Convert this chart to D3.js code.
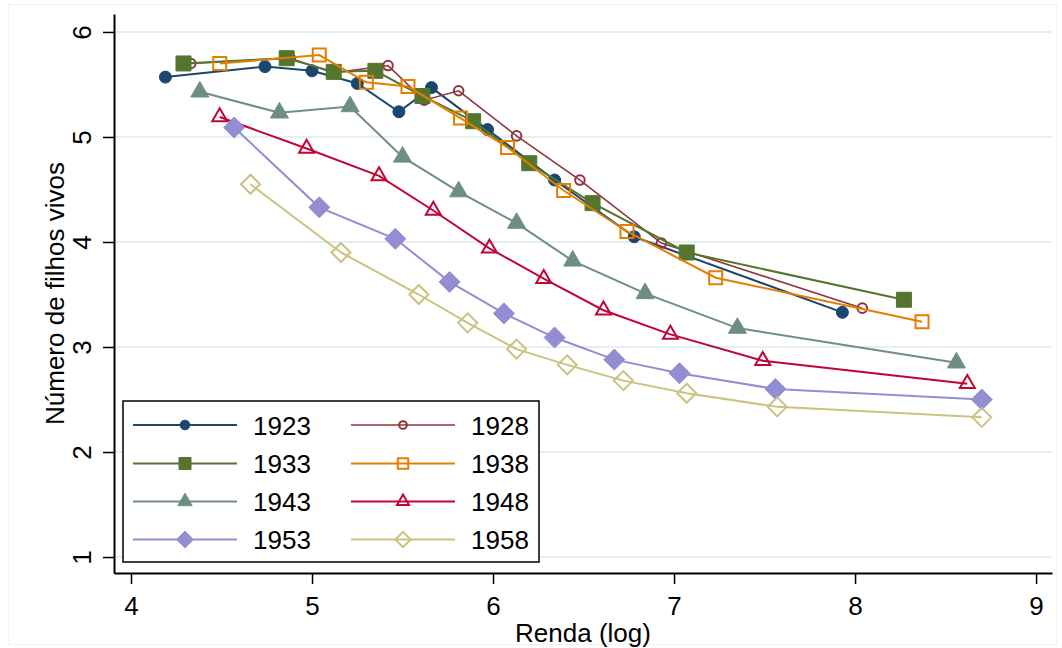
<!DOCTYPE html>
<html>
<head>
<meta charset="utf-8">
<script src="https://cdn.jsdelivr.net/npm/d3@7"></script>
<style>
  body { margin: 0; background: #fff; }
  text { font-family: 'Liberation Sans', Arial, sans-serif; fill: #000; }
</style>
</head>
<body>
<div id="chart"></div>
<script>
const chartWidth = 1062
const chartHeight = 648

// 各世代資料: [Renda (log), Número de filhos vivos]
const years = ['1923', '1928', '1933', '1938', '1943', '1948', '1953', '1958']
const s1923 = [[4.19, 5.57], [4.74, 5.67], [5.0, 5.63], [5.25, 5.51], [5.48, 5.24], [5.66, 5.47], [5.97, 5.07], [6.34, 4.59], [6.78, 4.05], [7.93, 3.33]]
const s1928 = [[4.33, 5.7], [4.88, 5.75], [5.12, 5.61], [5.42, 5.68], [5.62, 5.35], [5.81, 5.44], [6.13, 5.01], [6.48, 4.59], [6.93, 3.99], [8.04, 3.37]]
const s1933 = [[4.29, 5.7], [4.86, 5.75], [5.12, 5.62], [5.35, 5.63], [5.61, 5.39], [5.89, 5.15], [6.2, 4.75], [6.55, 4.37], [7.07, 3.9], [8.27, 3.45]]
const s1938 = [[4.49, 5.7], [5.04, 5.78], [5.3, 5.52], [5.53, 5.48], [5.82, 5.18], [6.08, 4.9], [6.39, 4.49], [6.74, 4.1], [7.23, 3.66], [8.37, 3.24]]
const s1943 = [[4.38, 5.43], [4.82, 5.23], [5.21, 5.29], [5.5, 4.81], [5.81, 4.48], [6.13, 4.18], [6.44, 3.82], [6.84, 3.51], [7.35, 3.18], [8.56, 2.85]]
const s1948 = [[4.49, 5.19], [4.97, 4.89], [5.37, 4.63], [5.67, 4.3], [5.98, 3.94], [6.28, 3.65], [6.61, 3.35], [6.98, 3.12], [7.49, 2.87], [8.62, 2.65]]
const s1953 = [[4.57, 5.09], [5.04, 4.33], [5.46, 4.03], [5.76, 3.62], [6.06, 3.32], [6.34, 3.09], [6.67, 2.88], [7.03, 2.75], [7.56, 2.6], [8.7, 2.5]]
const s1958 = [[4.66, 4.55], [5.16, 3.9], [5.59, 3.5], [5.86, 3.23], [6.13, 2.98], [6.41, 2.83], [6.72, 2.68], [7.07, 2.56], [7.57, 2.43], [8.7, 2.33]]
const xTicks = [4, 5, 6, 7, 8, 9]
const yTicks = [1, 2, 3, 4, 5, 6]

const seriesData = [s1923, s1928, s1933, s1938, s1943, s1948, s1953, s1958]

// Stata s2color 樣式
const styles = [
  { color: '#1a476f', shape: 'circle', fill: true, size: 6, width: 2 },
  { color: '#90353b', shape: 'circle', fill: false, size: 4.8, width: 1.6 },
  { color: '#55752f', shape: 'square', fill: true, size: 15, width: 2 },
  { color: '#e37e00', shape: 'square', fill: false, size: 13, width: 2 },
  { color: '#6e8e84', shape: 'triangle', fill: true, size: 18, width: 2 },
  { color: '#c10534', shape: 'triangle', fill: false, size: 15, width: 2 },
  { color: '#938dd2', shape: 'diamond', fill: true, size: 10.5, width: 2 },
  { color: '#cac27e', shape: 'diamond', fill: false, size: 9.5, width: 2 },
]

const x = d3.scaleLinear().domain([3.906, 9.088]).range([114, 1052])
const y = d3.scaleLinear().domain([0.848, 6.171]).range([573, 14])

const svg = d3
  .select('#chart')
  .append('svg')
  .attr('width', chartWidth)
  .attr('height', chartHeight)

// 外框
svg
  .append('rect')
  .attr('x', 8.5)
  .attr('y', 4.5)
  .attr('width', 1048)
  .attr('height', 640)
  .attr('fill', 'none')
  .attr('stroke', '#eef3f4')

// 格線
svg
  .append('g')
  .selectAll('line')
  .data(yTicks)
  .enter()
  .append('line')
  .attr('x1', 114)
  .attr('x2', 1052)
  .attr('y1', d => y(d))
  .attr('y2', d => y(d))
  .attr('stroke', '#e4eff1')
  .attr('stroke-width', 2)

// 畫 marker
function markerPath(shape, s) {
  if (shape === 'square') {
    const h = s / 2
    return `M${-h},${-h}H${h}V${h}H${-h}Z`
  }
  if (shape === 'triangle') {
    const h = (s * Math.sqrt(3)) / 2
    return `M0,${(-2 * h) / 3}L${s / 2},${h / 3}L${-s / 2},${h / 3}Z`
  }
  if (shape === 'diamond') {
    return `M0,${-s}L${s},0L0,${s}L${-s},0Z`
  }
  return d3.arc()({ innerRadius: 0, outerRadius: s, startAngle: 0, endAngle: 2 * Math.PI })
}

function drawMarker(g, st, cx, cy, scale) {
  g.append('path')
    .attr('d', markerPath(st.shape, st.size * scale))
    .attr('transform', `translate(${cx},${cy})`)
    .attr('fill', st.fill ? st.color : '#fff')
    .attr('fill-opacity', st.fill ? 1 : 0)
    .attr('stroke', st.color)
    .attr('stroke-width', st.fill ? 1 : 2)
}

const line = d3
  .line()
  .x(d => x(d[0]))
  .y(d => y(d[1]))

seriesData.forEach((data, i) => {
  const st = styles[i]
  const g = svg.append('g').attr('class', 'series-' + years[i])
  g.append('path')
    .attr('d', line(data))
    .attr('fill', 'none')
    .attr('stroke', st.color)
    .attr('stroke-width', st.width)
  data.forEach(d => drawMarker(g, st, x(d[0]), y(d[1]), 1))
})

// X 軸
const xAxis = svg
  .append('g')
  .attr('transform', 'translate(0,573)')
  .call(
    d3
      .axisBottom(x)
      .tickValues(xTicks)
      .tickFormat(d3.format('d'))
      .tickSize(11)
      .tickSizeOuter(0)
      .tickPadding(13)
  )
xAxis.select('.domain').attr('stroke', '#000').attr('stroke-width', 2)
xAxis.selectAll('.tick line').attr('stroke', '#000').attr('stroke-width', 1.5)
xAxis.selectAll('.tick text').attr('font-size', 26).attr('dy', '0.71em').style('font-family', 'Liberation Sans, Arial, sans-serif')

// Y 軸 (標籤旋轉 90 度)
const yAxis = svg
  .append('g')
  .attr('transform', 'translate(114,0)')
  .call(d3.axisLeft(y).tickValues(yTicks).tickFormat(d3.format('d')).tickSize(11).tickSizeOuter(0))
yAxis.select('.domain').attr('stroke', '#000').attr('stroke-width', 2)
yAxis.selectAll('.tick line').attr('stroke', '#000').attr('stroke-width', 1.5)
yAxis
  .selectAll('.tick text')
  .attr('font-size', 26)
  .attr('text-anchor', 'middle')
  .attr('transform', 'rotate(-90)')
  .attr('x', 0)
  .attr('y', -23)
  .attr('dy', 0)
  .style('font-family', 'Liberation Sans, Arial, sans-serif')

// 軸標題
svg
  .append('text')
  .attr('x', (114 + 1052) / 2)
  .attr('y', 642)
  .attr('text-anchor', 'middle')
  .attr('font-size', 26)
  .text('Renda (log)')

svg
  .append('text')
  .attr('transform', `translate(64,${(14 + 573) / 2}) rotate(-90)`)
  .attr('text-anchor', 'middle')
  .attr('font-size', 26)
  .text('Número de filhos vivos')

// 圖例
const legend = svg.append('g')
legend
  .append('rect')
  .attr('x', 123)
  .attr('y', 401)
  .attr('width', 416)
  .attr('height', 161)
  .attr('fill', '#fff')
  .attr('stroke', '#000')
  .attr('stroke-width', 1.5)

const rowY = [425, 463.5, 501.5, 539.5]
const colX = [133, 351]

years.forEach((yr, i) => {
  const st = styles[i]
  const cx = colX[i % 2]
  const cy = rowY[Math.floor(i / 2)]
  legend
    .append('line')
    .attr('x1', cx)
    .attr('x2', cx + 104)
    .attr('y1', cy)
    .attr('y2', cy)
    .attr('stroke', st.color)
    .attr('stroke-width', st.width)
  drawMarker(legend, st, cx + 52, cy, 0.8)
  legend
    .append('text')
    .attr('x', cx + 120)
    .attr('y', cy + 9.5)
    .attr('font-size', 26)
    .text(yr)
})
</script>
</body>
</html>
